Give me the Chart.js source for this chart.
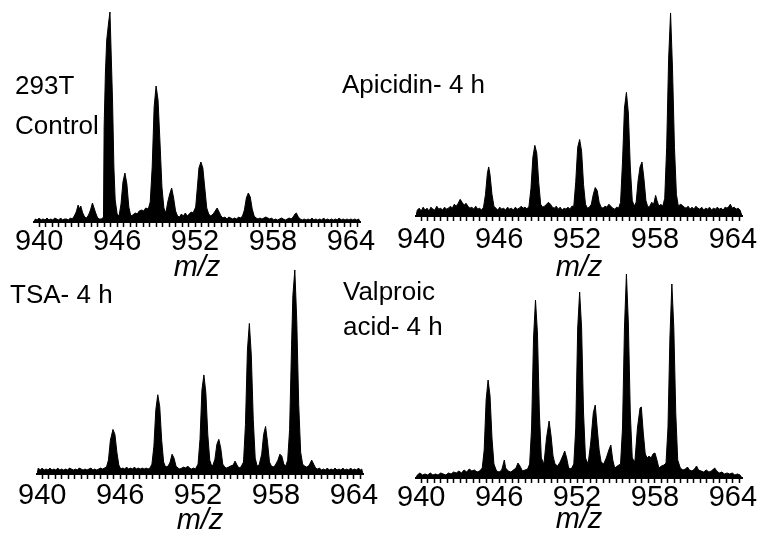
<!DOCTYPE html>
<html>
<head>
<meta charset="utf-8">
<script src="https://cdn.jsdelivr.net/npm/chart.js@4.4.1/dist/chart.umd.min.js"></script>
<style>
  html, body { margin: 0; padding: 0; background: #fff; }
  #fig { position: relative; width: 764px; height: 538px; overflow: hidden; background: #fff; }
  #fig canvas { position: absolute; }
  .lbl { position: absolute; font-family: "Liberation Sans", Arial, sans-serif; font-size: 26px; color: #000; white-space: nowrap; }
</style>
</head>
<body>
<div id="fig">
  <canvas id="c1"></canvas>
  <canvas id="c2"></canvas>
  <canvas id="c3"></canvas>
  <canvas id="c4"></canvas>
  <div class="lbl" style="left:15px; top:65px; line-height:40px;">293T<br>Control</div>
  <div class="lbl" style="left:342px; top:71px; line-height:26px;">Apicidin- 4 h</div>
  <div class="lbl" style="left:10px; top:281px; line-height:26px;">TSA- 4 h</div>
  <div class="lbl" style="left:343px; top:274px; line-height:35px;">Valproic<br>acid- 4 h</div>
</div>
<script>
// --- data: [m/z, intensity (a.u.)] ---
const majorTicks = [940, 946, 952, 958, 964];
const mzMin = 939.6;
const mzMax = 964.7;

const control = [
  [939.6,0],[939.7,3],[939.85,2],[940.0,4],[940.15,2],[940.3,3],[940.45,2],[940.6,4],[940.75,2],[940.9,3],[941.05,2],[941.2,4],[941.35,3],[941.5,2],[941.65,4],[941.8,2],[941.95,3],[942.1,3],[942.25,2],[942.4,4],[942.55,3],[942.7,6],
  [942.85,10],[943.0,17],[943.1,13],[943.2,16],[943.35,9],[943.5,5],[943.65,4],[943.8,7],[943.95,12],[944.1,19],[944.2,15],[944.35,9],[944.5,4],[944.65,3],[944.8,3],[944.95,5],
  [945.0,95],[945.1,150],[945.2,182],[945.35,200],[945.45,210],[945.55,165],[945.65,120],[945.75,55],[945.85,22],[946.0,8],[946.15,6],
  [946.3,18],[946.45,40],[946.6,49],[946.75,38],[946.9,15],[947.05,6],[947.2,7],[947.4,9],[947.55,8],[947.7,11],[947.9,12],[948.05,11],[948.2,14],[948.4,13],
  [948.55,20],[948.7,55],[948.85,115],[949.0,136],[949.15,122],[949.3,80],[949.45,35],[949.6,14],[949.75,9],
  [949.9,20],[950.05,28],[950.2,34],[950.35,24],[950.5,11],[950.65,6],[950.8,5],[950.95,8],[951.1,6],[951.25,9],[951.4,6],[951.55,8],[951.7,10],[951.85,9],
  [952.05,15],[952.2,38],[952.3,54],[952.45,60],[952.6,54],[952.75,34],[952.9,14],[953.05,8],[953.2,6],[953.4,8],[953.55,11],[953.7,14],[953.85,10],[954.0,6],[954.15,4],[954.3,5],[954.45,3],[954.6,5],[954.75,4],[954.9,3],[955.05,4],[955.2,3],[955.35,5],[955.5,4],[955.65,6],
  [955.8,12],[955.95,24],[956.1,29],[956.25,25],[956.4,13],[956.55,6],[956.7,4],[956.85,3],[957.0,4],[957.15,3],[957.3,4],[957.45,5],[957.6,4],[957.75,3],[957.9,4],[958.05,2],[958.2,3],[958.35,2],[958.5,3],[958.65,4],[958.8,3],[958.95,2],[959.1,3],[959.25,4],[959.4,3],[959.55,5],[959.7,8],[959.8,9],[959.95,5],
  [960.1,3],[960.25,2],[960.4,3],[960.55,2],[960.7,3],[960.85,2],[961.0,4],[961.15,2],[961.3,3],[961.45,2],[961.6,3],[961.75,2],[961.9,4],[962.05,2],[962.2,3],[962.35,2],[962.5,3],[962.65,2],[962.8,3],[962.95,2],[963.1,4],[963.25,2],[963.4,3],[963.55,2],[963.7,3],[963.85,2],[964.0,3],[964.15,2],[964.3,3],[964.45,2],[964.6,3],[964.7,0]
];

const apicidin = [
  [939.6,0],[939.7,6],[939.85,8],[940.0,5],[940.15,9],[940.3,6],[940.45,8],[940.6,5],[940.75,9],[940.9,7],[941.05,6],[941.2,10],[941.35,7],[941.5,8],[941.65,6],[941.8,9],[941.95,7],[942.1,8],[942.25,10],[942.4,8],[942.55,12],[942.7,10],[942.85,13],[943.0,17],[943.15,14],[943.3,11],[943.45,13],[943.6,10],[943.75,8],[943.9,9],[944.05,7],[944.2,10],[944.35,7],[944.5,8],[944.65,6],[944.8,9],
  [944.95,22],[945.1,44],[945.2,50],[945.3,42],[945.45,22],[945.6,10],[945.75,8],[945.9,6],[946.05,9],[946.2,7],[946.35,8],[946.5,6],[946.65,9],[946.8,7],[946.95,8],[947.1,6],[947.25,9],[947.4,7],[947.55,8],[947.7,10],[947.85,8],[948.0,9],[948.15,7],
  [948.3,10],[948.45,28],[948.6,60],[948.75,72],[948.9,64],[949.05,34],[949.2,12],[949.35,9],[949.5,10],[949.65,12],[949.8,14],[949.95,12],[950.1,9],[950.25,8],[950.4,10],[950.55,7],[950.7,9],[950.85,6],[951.0,8],[951.15,7],[951.3,9],[951.45,7],[951.6,10],
  [951.75,10],[951.9,35],[952.05,70],[952.2,78],[952.35,66],[952.5,32],[952.65,12],[952.8,8],[952.95,9],
  [953.1,12],[953.25,22],[953.4,29],[953.55,26],[953.7,14],[953.85,9],[954.0,8],[954.15,10],[954.3,9],[954.45,12],[954.6,10],[954.75,8],[954.9,7],[955.05,9],[955.2,8],
  [955.35,14],[955.5,55],[955.65,110],[955.8,126],[955.95,105],[956.1,50],[956.25,16],[956.4,10],
  [956.55,14],[956.7,36],[956.85,50],[957.0,55],[957.15,38],[957.3,16],[957.45,9],[957.6,10],[957.75,14],[957.9,12],[958.05,21],[958.15,16],[958.3,10],[958.45,12],[958.6,10],
  [958.75,18],[958.9,70],[959.05,160],[959.2,207],[959.35,150],[959.5,70],[959.65,22],[959.8,10],[959.95,12],[960.1,11],[960.25,9],[960.4,8],[960.55,10],[960.7,7],[960.85,9],[961.0,7],[961.15,10],[961.3,8],[961.45,7],[961.6,9],[961.75,6],[961.9,8],[962.05,7],[962.2,9],[962.35,6],[962.5,8],[962.65,7],[962.8,9],[962.95,7],[963.1,8],[963.25,6],[963.4,9],[963.55,8],[963.7,10],[963.8,12],[963.95,8],[964.1,9],[964.25,7],[964.4,8],[964.55,6],[964.7,0]
];

const tsa = [
  [939.6,0],[939.7,6],[939.85,4],[940.0,6],[940.15,4],[940.3,5],[940.45,4],[940.6,6],[940.75,4],[940.9,5],[941.05,4],[941.2,6],[941.35,4],[941.5,5],[941.65,4],[941.8,5],[941.95,4],[942.1,6],[942.25,5],[942.4,4],[942.55,5],[942.7,4],[942.85,6],[943.0,5],[943.15,4],[943.3,5],[943.45,4],[943.6,5],[943.75,6],[943.9,4],[944.05,5],[944.2,4],[944.35,5],[944.5,6],[944.65,5],[944.8,6],[944.95,7],
  [945.1,14],[945.25,34],[945.45,45],[945.6,40],[945.75,22],[945.9,9],[946.05,5],[946.2,6],[946.35,5],[946.5,7],[946.65,5],[946.8,6],[946.95,5],[947.1,7],[947.25,5],[947.4,6],[947.55,5],[947.7,6],[947.85,5],[948.0,6],[948.15,5],[948.3,6],
  [948.45,10],[948.6,28],[948.75,65],[948.9,80],[949.05,68],[949.2,34],[949.35,12],[949.5,7],[949.7,8],
  [949.85,12],[950.0,20],[950.15,16],[950.3,8],[950.45,6],[950.6,5],[950.75,6],[950.9,7],[951.05,6],[951.2,8],[951.35,6],[951.5,5],[951.65,6],[951.8,5],
  [952.0,10],[952.15,35],[952.3,85],[952.45,100],[952.6,82],[952.75,40],[952.9,14],[953.05,8],[953.15,9],
  [953.3,15],[953.45,30],[953.6,35],[953.75,26],[953.9,10],[954.05,7],[954.2,6],[954.35,7],[954.5,8],[954.7,9],[954.85,13],[955.0,9],[955.15,6],[955.3,7],
  [955.5,12],[955.65,50],[955.8,125],[955.95,152],[956.1,120],[956.25,55],[956.4,16],[956.55,8],[956.7,9],
  [956.9,20],[957.05,40],[957.2,48],[957.35,32],[957.5,12],[957.65,8],[957.8,7],[957.95,9],[958.15,14],[958.3,20],[958.45,18],[958.6,10],[958.75,8],
  [958.9,14],[959.05,45],[959.2,130],[959.3,180],[959.45,206],[959.6,155],[959.75,70],[959.9,22],[960.05,10],[960.2,8],[960.35,7],[960.5,8],[960.6,10],[960.75,14],[960.9,10],[961.05,6],[961.2,5],[961.35,6],[961.5,4],[961.65,5],[961.8,4],[961.95,6],[962.1,4],[962.25,5],[962.4,4],[962.55,6],[962.7,4],[962.85,5],[963.0,4],[963.15,6],[963.3,4],[963.45,5],[963.6,4],[963.75,6],[963.9,4],[964.05,5],[964.2,4],[964.35,6],[964.5,4],[964.6,5],[964.7,0]
];

const valproic = [
  [939.6,0],[939.7,3],[939.9,5],[940.1,3],[940.3,4],[940.5,3],[940.7,5],[940.9,3],[941.1,4],[941.3,3],[941.5,5],[941.7,4],[941.9,3],[942.1,5],[942.3,4],[942.5,6],[942.7,5],[942.9,7],[943.1,5],[943.3,8],[943.5,6],[943.7,9],[943.9,7],[944.1,8],[944.3,6],[944.5,7],
  [944.7,10],[944.85,28],[945.0,78],[945.15,98],[945.3,82],[945.45,40],[945.6,14],[945.8,7],[946.0,6],[946.2,8],[946.4,18],[946.5,10],[946.7,7],[946.9,6],[947.1,8],[947.3,10],[947.45,15],[947.6,12],[947.8,7],[948.0,8],[948.2,9],
  [948.35,14],[948.5,50],[948.65,140],[948.8,178],[948.95,145],[949.1,65],[949.25,20],
  [949.45,14],[949.65,40],[949.85,57],[950.0,42],[950.15,22],[950.3,14],[950.5,12],[950.7,16],[950.9,22],[951.05,27],[951.2,20],[951.35,10],[951.55,9],
  [951.75,14],[951.9,50],[952.05,150],[952.2,186],[952.35,150],[952.5,65],[952.65,20],
  [952.85,14],[953.05,35],[953.25,65],[953.4,73],[953.55,50],[953.7,28],[953.85,16],[954.05,14],[954.25,20],[954.45,28],[954.6,33],[954.75,18],[954.9,10],[955.1,12],
  [955.35,14],[955.5,50],[955.65,150],[955.8,204],[955.95,155],[956.1,65],[956.25,20],
  [956.45,16],[956.65,50],[956.85,70],[956.95,71],[957.1,45],[957.25,24],[957.4,20],[957.55,22],[957.7,20],[957.85,24],[958.0,25],[958.15,18],[958.3,10],[958.5,12],[958.7,13],
  [958.85,15],[959.0,50],[959.15,140],[959.3,194],[959.45,150],[959.6,65],[959.75,18],
  [959.95,10],[960.15,8],[960.35,9],[960.5,11],[960.65,8],[960.85,7],[961.05,9],[961.2,12],[961.35,8],[961.55,7],[961.75,6],[961.95,8],[962.15,6],[962.35,7],[962.5,9],[962.6,10],[962.75,7],[962.95,5],[963.15,6],[963.35,4],[963.55,5],[963.75,4],[963.95,5],[964.15,3],[964.35,4],[964.55,3],[964.7,0]
];

// --- panel placement (px) ---
const panels = [
  { id: 'c1', data: control,   left: 0,   top: 0,   baseline: 222, padL: 34, tickPad: 0, titleLH: 24 },
  { id: 'c2', data: apicidin,  left: 382, top: 0,   baseline: 220, padL: 34, tickPad: 4, titleLH: 20 },
  { id: 'c3', data: tsa,       left: 0,   top: 255, baseline: 476, padL: 37, tickPad: 2, titleLH: 18 },
  { id: 'c4', data: valproic,  left: 382, top: 255, baseline: 478, padL: 34, tickPad: 0, titleLH: 16 }
];

const W = 382, AREA_W = 326, PAD_TOP = 10, TICK_LEN = 5, TICK_FONT = 29;
const fontFamily = '"Liberation Sans", Arial, sans-serif';

panels.forEach(function (p) {
  const canvas = document.getElementById(p.id);
  const h = (p.baseline - p.top) + TICK_LEN + p.tickPad + TICK_FONT + p.titleLH;
  canvas.width = W;
  canvas.height = h;
  canvas.style.left = p.left + 'px';
  canvas.style.top = p.top + 'px';
  canvas.style.width = W + 'px';
  canvas.style.height = h + 'px';

  new Chart(canvas.getContext('2d'), {
    type: 'line',
    data: {
      datasets: [{
        data: p.data,
        borderColor: '#000',
        backgroundColor: '#000',
        borderWidth: 1,
        pointRadius: 0,
        tension: 0,
        fill: 'origin'
      }]
    },
    options: {
      responsive: false,
      animation: false,
      events: [],
      devicePixelRatio: 1,
      layout: { padding: { left: p.padL, right: W - p.padL - AREA_W, top: PAD_TOP, bottom: 0 } },
      plugins: { legend: { display: false }, tooltip: { enabled: false } },
      scales: {
        x: {
          type: 'linear',
          min: mzMin,
          max: mzMax,
          afterBuildTicks: function (axis) {
            // minor ticks every 0.5, labels only on the major ones
            const t = [];
            for (let v = majorTicks[0]; v <= mzMax; v += 0.5) t.push({ value: v });
            axis.ticks = t;
          },
          ticks: {
            autoSkip: false,
            maxRotation: 0,
            padding: p.tickPad,
            color: '#000',
            font: { family: fontFamily, size: TICK_FONT, lineHeight: TICK_FONT + 'px' },
            callback: function (v) { return majorTicks.includes(v) ? String(v) : ''; }
          },
          grid: { display: true, drawOnChartArea: false, drawTicks: true, tickLength: TICK_LEN, tickColor: '#000', tickWidth: 1.5 },
          border: { display: true, color: '#000', width: 2 },
          title: {
            display: true,
            text: 'm/z',
            color: '#000',
            padding: 0,
            font: { family: fontFamily, size: TICK_FONT, style: 'italic', lineHeight: p.titleLH + 'px' }
          }
        },
        y: {
          display: false,
          min: 0,
          max: p.baseline - p.top - PAD_TOP
        }
      }
    }
  });
});
</script>
</body>
</html>
